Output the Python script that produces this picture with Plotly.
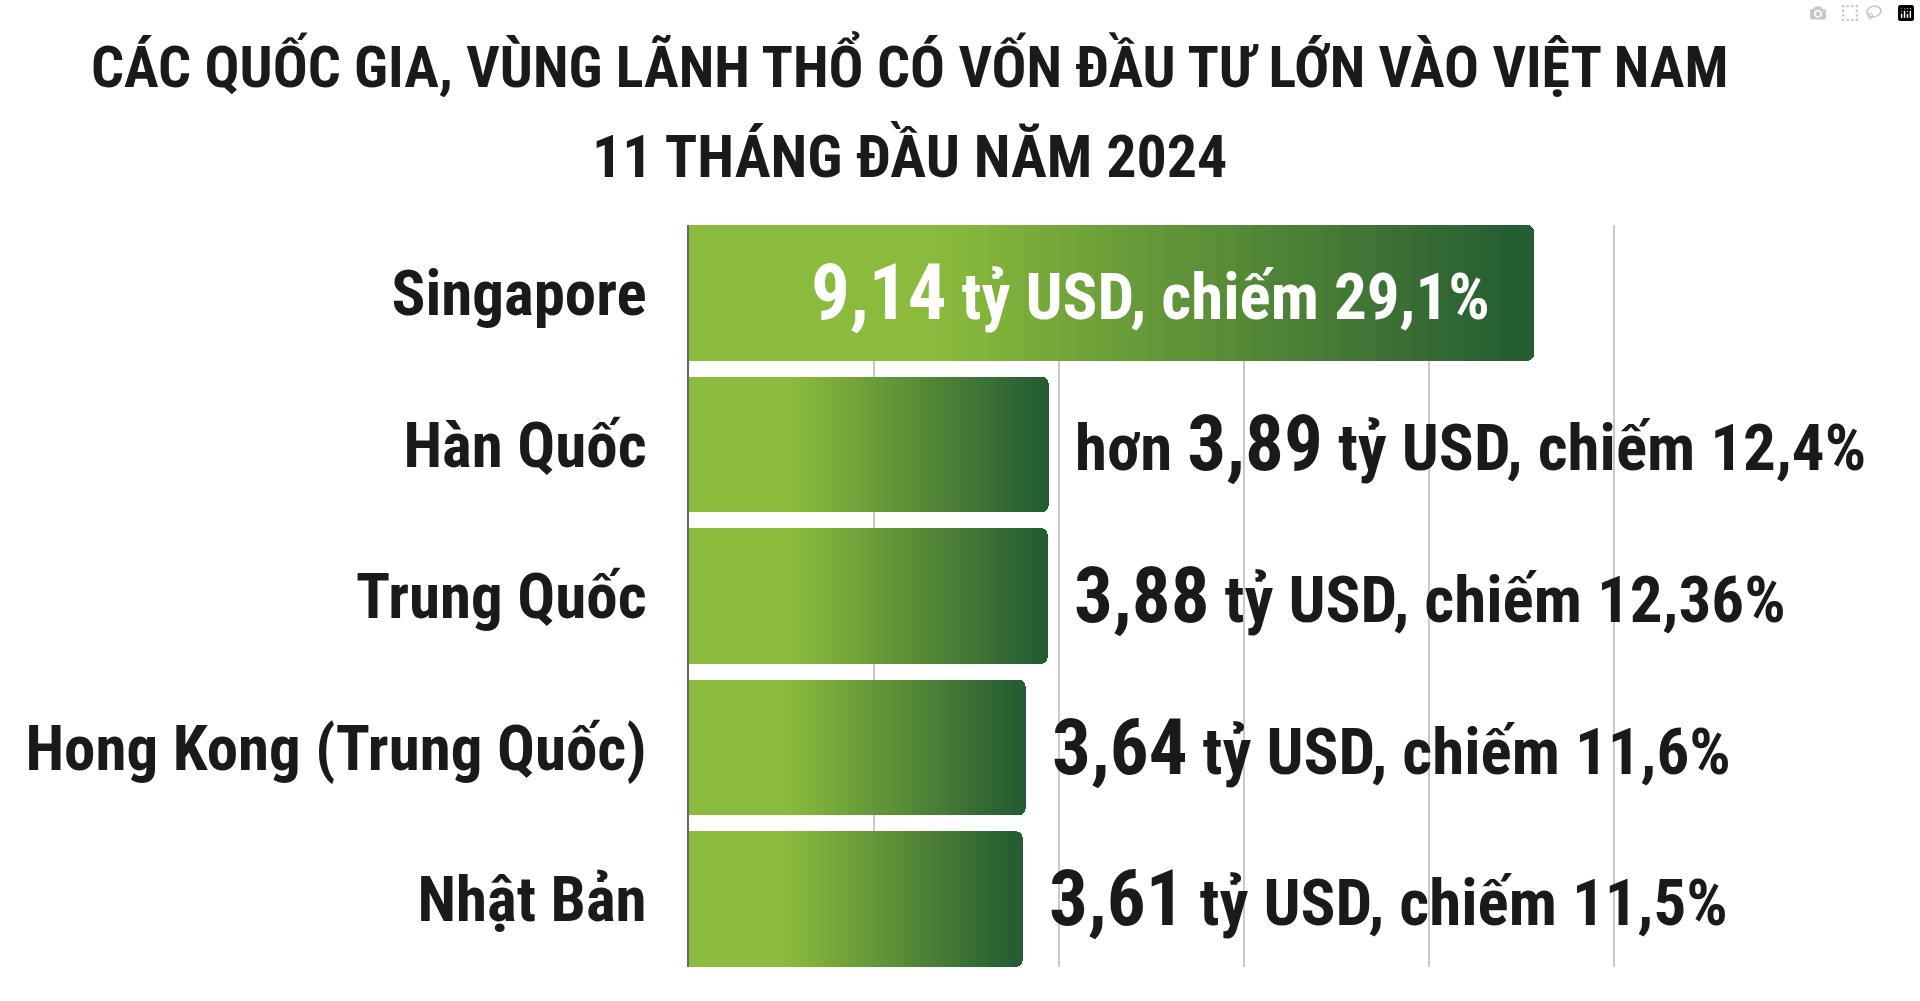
import plotly.graph_objects as go

# Data (billion USD, share of total FDI %)
countries = ["Singapore", "Hàn Quốc", "Trung Quốc", "Hong Kong (Trung Quốc)", "Nhật Bản"]
capital = [9.14, 3.89, 3.88, 3.64, 3.61]
share = [29.1, 12.4, 12.36, 11.6, 11.5]
prefix = ["", "hơn ", "", "", ""]

title_1 = "CÁC QUỐC GIA, VÙNG LÃNH THỔ CÓ VỐN ĐẦU TƯ LỚN VÀO VIỆT NAM"
title_2 = "11 THÁNG ĐẦU NĂM 2024"

FONT = "Roboto Condensed, Roboto, sans-serif"
LIGHT = (139, 187, 60)
DARK = (38, 94, 51)
N_SEG = 48
W, H = 1920, 1001
M_L, M_R, M_T, M_B = 689, 29, 225, 34


def seg_color(f):
    # flat light green for the first ~30% of a bar, then linear to dark green
    t = min(1.0, max(0.0, (f - 0.29) / 0.68))
    r, g, b = (round(LIGHT[i] + (DARK[i] - LIGHT[i]) * t) for i in range(3))
    return f"rgb({r},{g},{b})"


def fmt(v):
    return f"{v:g}".replace(".", ",")


def paper_x(px):
    return (px - M_L) / (W - M_L - M_R)


def paper_y(py):
    # pixel row from the top of the page -> paper coordinate
    return (H - M_B - py) / (H - M_T - M_B)


fig = go.Figure()

# every bar is a stack of thin slices, so the fill can fade from light to dark
for k in range(N_SEG):
    fig.add_trace(
        go.Bar(
            x=[v / N_SEG for v in capital],
            y=countries,
            orientation="h",
            marker=dict(color=seg_color((k + 0.5) / N_SEG), line=dict(width=0)),
            width=0.896,
            hoverinfo="skip",
            showlegend=False,
        )
    )

for c, v, s, p in zip(countries, capital, share, prefix):
    inside = v > 6
    txt = (
        f"<b>{p}<span style='font-size:77px'>{fmt(v)}</span>"
        f" tỷ USD, chiếm {fmt(s)}%</b>"
    )
    fig.add_annotation(
        x=v,
        y=c,
        text=txt,
        showarrow=False,
        xanchor="right" if inside else "left",
        xshift=-42 if inside else 24,
        font=dict(family=FONT, size=65, color="white" if inside else "#1a1a1a"),
    )

for txt, py, size in [(title_1, 66, 58), (title_2, 157, 60)]:
    fig.add_annotation(
        x=paper_x(909), y=paper_y(py), xref="paper", yref="paper",
        text=f"<b>{txt}</b>", showarrow=False, xanchor="center", yanchor="middle",
        font=dict(family=FONT, size=size, color="#1a1a1a"),
    )

fig.update_layout(
    width=W,
    height=H,
    barmode="stack",
    barcornerradius=7,
    plot_bgcolor="white",
    paper_bgcolor="white",
    margin=dict(l=M_L, r=M_R, t=M_T, b=M_B),
    xaxis=dict(
        range=[0, 13],
        tickvals=[0, 2, 4, 6, 8, 10],
        showticklabels=False,
        showgrid=True,
        gridcolor="#c9c9c9",
        gridwidth=1.5,
        zeroline=False,
        automargin=False,
        fixedrange=True,
    ),
    yaxis=dict(
        range=[4.448, -0.448],
        tickvals=countries,
        ticktext=[f"<b>{c}</b>" for c in countries],
        showline=True,
        linecolor="#666666",
        linewidth=1.5,
        showgrid=False,
        ticks="",
        ticklabelstandoff=28,
        tickfont=dict(family=FONT, size=63, color="#1a1a1a"),
        automargin=False,
        fixedrange=True,
    ),
)

fig.write_html("out.html", post_script="document.body.style.margin='0';")
